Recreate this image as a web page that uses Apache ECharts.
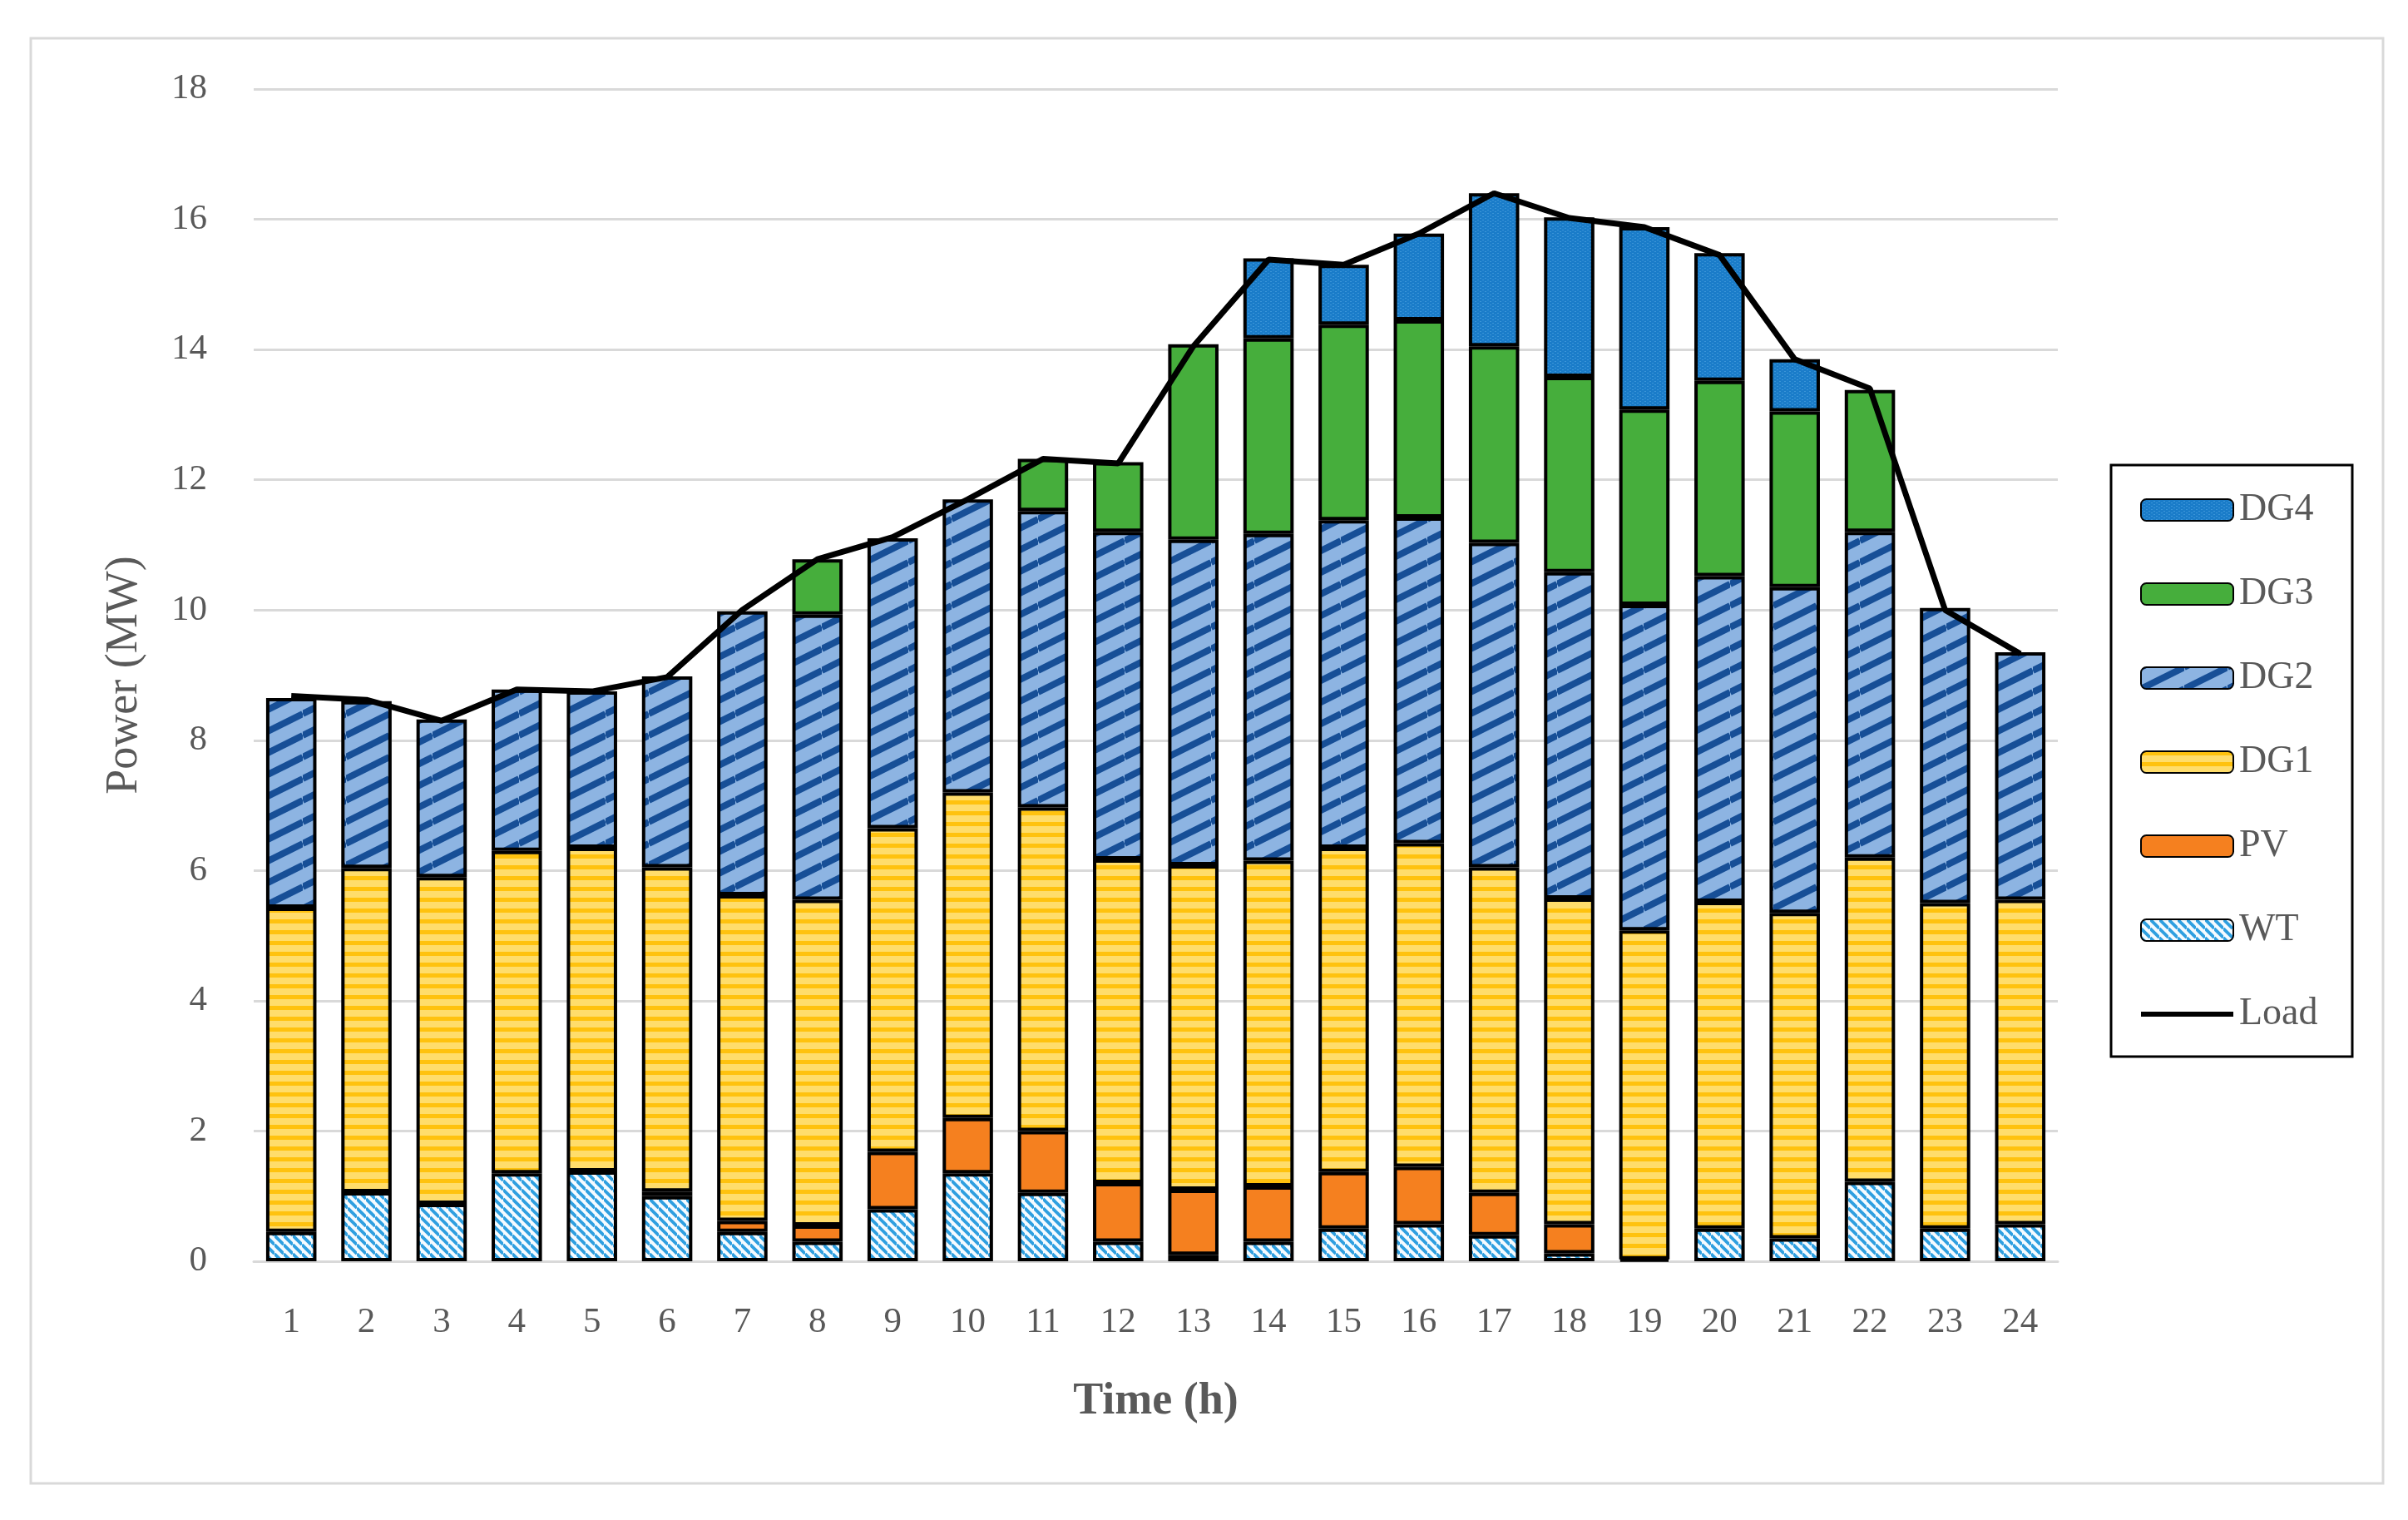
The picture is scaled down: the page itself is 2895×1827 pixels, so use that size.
<!DOCTYPE html>
<html>
<head>
<meta charset="utf-8">
<script src="https://cdn.jsdelivr.net/npm/echarts@6/dist/echarts.min.js"></script>
<style>
html,body{margin:0;padding:0;background:#fff;}
#chart{width:2895px;height:1827px;}
</style>
</head>
<body>
<div id="chart"></div>
<script>
const hours = ['1','2','3','4','5','6','7','8','9','10','11','12','13','14','15','16','17','18','19','20','21','22','23','24'];
const WT  = [0.45,1.06,0.88,1.35,1.38,1.00,0.45,0.30,0.80,1.35,1.05,0.30,0.10,0.30,0.50,0.57,0.40,0.12,0.03,0.50,0.35,1.22,0.50,0.57];
const PV  = [0,0,0,0,0,0.07,0.17,0.25,0.88,0.85,0.95,0.90,1.00,0.85,0.87,0.88,0.65,0.45,0,0,0,0,0,0];
const DG1 = [4.98,4.98,5.02,4.95,4.97,4.98,5.00,5.00,4.97,5.00,4.97,4.97,4.98,5.00,4.98,4.97,5.00,5.00,5.05,5.02,5.00,4.98,5.00,4.98];
const DG2 = [3.22,2.56,2.42,2.48,2.40,2.93,4.36,4.38,4.45,4.50,4.55,5.03,5.00,5.02,5.03,5.00,4.98,5.01,5.00,5.00,5.00,5.00,4.53,3.80];
const DG3 = [0,0,0,0,0,0,0,0.85,0,0,0.80,1.07,3.00,3.00,3.00,3.03,3.02,3.00,3.00,3.00,2.70,2.18,0,0];
const DG4 = [0,0,0,0,0,0,0,0,0,0,0,0,0,1.23,0.92,1.33,2.35,2.45,2.80,1.96,0.80,0,0,0];
const Load = [8.68,8.62,8.30,8.78,8.75,8.97,10.00,10.78,11.12,11.70,12.32,12.25,14.05,15.38,15.30,15.78,16.40,16.02,15.88,15.45,13.85,13.40,10.00,9.33];
const yTicks = [0,2,4,6,8,10,12,14,16,18];

function mk(w,h,draw){const c=document.createElement('canvas');c.width=w;c.height=h;const x=c.getContext('2d');draw(x,w,h);return {image:c,repeat:'repeat'};}
const pWT = mk(11,11,(x,w,h)=>{x.fillStyle='#f6fbff';x.fillRect(0,0,w,h);x.strokeStyle='#2f9fe0';x.lineWidth=3.8;
  for(let k=-1;k<=1;k++){x.beginPath();x.moveTo(0,k*h);x.lineTo(w,w+k*h);x.stroke();}});
const pDG1 = mk(2,13,(x,w,h)=>{x.fillStyle='#ffdd6b';x.fillRect(0,0,w,h);x.fillStyle='#ffc20e';x.fillRect(0,0,w,5);});
const pDG2 = mk(52,26,(x,w,h)=>{x.fillStyle='#8db4e2';x.fillRect(0,0,w,h);x.strokeStyle='#174f97';x.lineWidth=8;
  for(let k=-1;k<=1;k++){x.beginPath();x.moveTo(0,h+k*h);x.lineTo(w,k*h);x.stroke();}});
const pDG4 = mk(6,4,(x,w,h)=>{x.fillStyle='#1a7cc9';x.fillRect(0,0,w,h);x.fillStyle='#3b95d8';x.fillRect(0,0,2,1);x.fillRect(3,2,2,1);});

const txt = '#595959';
const font = 'Liberation Serif';
function barSeries(name, data, color){
  return {name, type:'bar', stack:'total', data: data.map(v => v === 0 ? '-' : v), barWidth:'67%',
    itemStyle:{color, borderColor:'#000', borderWidth:4}, emphasis:{disabled:true}};
}
const chart = echarts.init(document.getElementById('chart'));
chart.setOption({
  animation:false,
  backgroundColor:'#fff',
  textStyle:{fontFamily:font},
  graphic:[
    {type:'rect', shape:{x:37,y:46,width:2828,height:1737}, style:{fill:'none',stroke:'#d9d9d9',lineWidth:3}, z:-1},
    {type:'rect', shape:{x:2538,y:559,width:290,height:711}, style:{fill:'#fff',stroke:'#000',lineWidth:3}, z:-1}
  ],
  grid:{left:305, right:421, top:107, bottom:311},
  legend:{
    orient:'vertical', left:2566, top:585,
    data:['DG4','DG3','DG2','DG1','PV','WT',{name:'Load', lineStyle:{width:6}}],
    itemWidth:111, itemHeight:26, itemGap:55,
    textStyle:{fontFamily:font, fontSize:46, color:txt, lineHeight:46, padding:[0,0,0,2]},
    selectedMode:false
  },
  xAxis:{type:'category', data:hours,
    axisLine:{lineStyle:{color:'#d9d9d9', width:3}}, axisTick:{show:false},
    axisLabel:{color:txt, fontSize:43, margin:52, fontFamily:font},
    name:'Time (h)', nameLocation:'middle', nameGap:142,
    nameTextStyle:{color:txt, fontSize:54, fontWeight:'bold', fontFamily:font}
  },
  yAxis:{type:'value', min:0, max:18, interval:2,
    axisLine:{show:false}, axisTick:{show:false},
    splitLine:{lineStyle:{color:'#d9d9d9', width:3}},
    axisLabel:{color:txt, fontSize:43, margin:56, fontFamily:font,
      formatter:v=>yTicks.includes(v)?String(v):''},
    name:'Power (MW)', nameLocation:'middle', nameGap:128,
    nameTextStyle:{color:txt, fontSize:54, fontFamily:font}
  },
  series:[
    barSeries('WT', WT, pWT),
    barSeries('PV', PV, '#f5801f'),
    barSeries('DG1', DG1, pDG1),
    barSeries('DG2', DG2, pDG2),
    barSeries('DG3', DG3, '#46ae3c'),
    barSeries('DG4', DG4, pDG4),
    {name:'Load', type:'line', data:Load, symbol:'circle', showSymbol:false, z:10,
      lineStyle:{color:'#000', width:7},
      itemStyle:{color:'rgba(0,0,0,0)', borderColor:'rgba(0,0,0,0)', borderWidth:0}}
  ]
});
</script>
</body>
</html>
